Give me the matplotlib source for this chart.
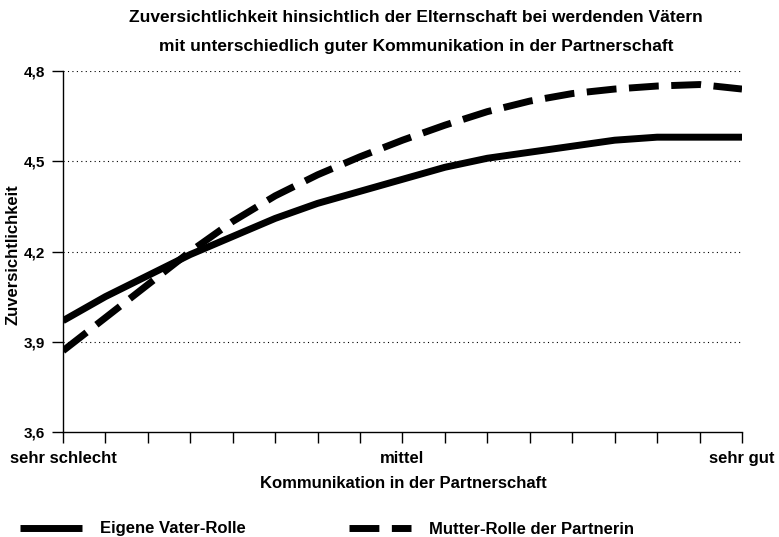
import numpy as np
import matplotlib.pyplot as plt

plt.rcParams['font.family'] = ['Liberation Sans', 'DejaVu Sans']
plt.rcParams['font.weight'] = 'bold'

# Data
x_pos = np.arange(17)
x_labels = ["sehr schlecht"] + [""] * 7 + ["mittel"] + [""] * 7 + ["sehr gut"]
vater = [3.97, 4.05, 4.12, 4.19, 4.25, 4.31, 4.36, 4.40, 4.44,
         4.48, 4.51, 4.53, 4.55, 4.57, 4.58, 4.58, 4.58]
mutter = [3.87, 3.98, 4.09, 4.20, 4.30, 4.385, 4.455, 4.515, 4.57,
          4.62, 4.665, 4.70, 4.725, 4.74, 4.75, 4.755, 4.74]
y_ticks = [3.6, 3.9, 4.2, 4.5, 4.8]
y_labels = ["3,6", "3,9", "4,2", "4,5", "4,8"]

W, H = 779, 537
fig = plt.figure(figsize=(W / 100, H / 100), dpi=100)
ax = fig.add_axes([63/W, (H-432)/H, (742-63)/W, (432-71)/H])

l1, = ax.plot(x_pos, vater, color="black", lw=5, solid_capstyle="butt",
              label="Eigene Vater-Rolle")
l2, = ax.plot(x_pos, mutter, color="black", lw=5, dash_capstyle="butt",
              linestyle=(0, (4.3, 1.8)), label="Mutter-Rolle der Partnerin")

ax.set_xlim(0, 16)
ax.set_ylim(3.6, 4.8)
ax.set_xticks(x_pos)
ax.set_xticklabels(x_labels, fontsize=12, fontweight="bold")
ax.set_yticks(y_ticks)
ax.set_yticklabels(y_labels, fontsize=11, fontweight="bold")
ax.tick_params(axis="both", direction="out", length=8, width=1, color="black")
ax.tick_params(axis="x", pad=6)
ax.tick_params(axis="y", pad=5)

for s in ["top", "right"]:
    ax.spines[s].set_visible(False)
for s in ["left", "bottom"]:
    ax.spines[s].set_linewidth(1)

# dotted horizontal grid lines
for y in y_ticks[1:]:
    ax.axhline(y, color="black", lw=0.8, linestyle=(0, (1, 3)), zorder=0)

fig.text(403/W, 1 - 484/H, "Kommunikation in der Partnerschaft", fontsize=12,
         fontweight="bold", ha="center", va="center")
fig.text(13/W, 1 - 255/H, "Zuversichtlichkeit", fontsize=12, fontweight="bold",
         ha="center", va="center", rotation=90)
fig.text(416/W, 1 - 17/H,
         "Zuversichtlichkeit hinsichtlich der Elternschaft bei werdenden Vätern",
         fontsize=12.5, fontweight="bold", ha="center", va="center")
fig.text(416/W, 1 - 47/H,
         "mit unterschiedlich guter Kommunikation in der Partnerschaft",
         fontsize=12.5, fontweight="bold", ha="center", va="center")

fig.legend(handles=[l1, l2], loc="center left", bbox_to_anchor=(20/W, 1 - 529/H),
           ncol=2, frameon=False, fontsize=12, handlelength=3.7,
           handletextpad=1.1, columnspacing=6.2, borderaxespad=0, borderpad=0)

fig.savefig("out.png", dpi=100)
